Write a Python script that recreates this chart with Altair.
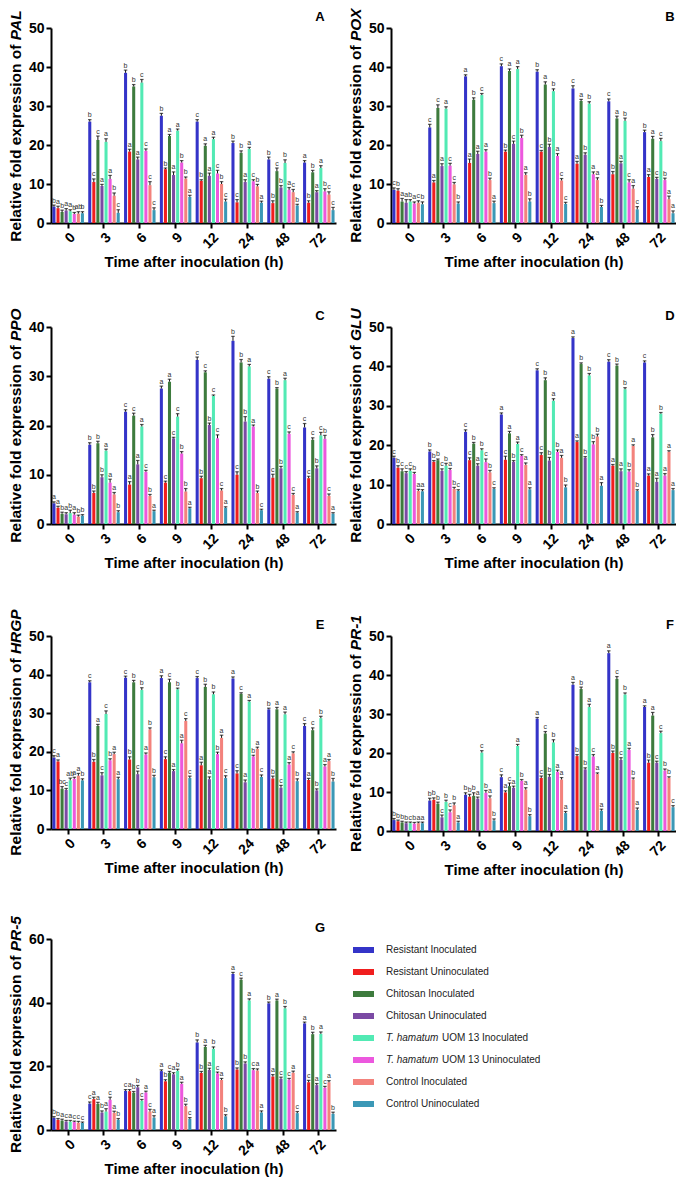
import altair as alt
import pandas as pd

FONT = "Liberation Sans"

times = ["0", "3", "6", "9", "12", "24", "48", "72"]
treatments = [
    "Resistant Inoculated", "Resistant Uninoculated", "Chitosan Inoculated",
    "Chitosan Uninoculated", "T. hamatum UOM 13 Inoculated",
    "T. hamatum UOM 13 Uninoculated", "Control Inoculated", "Control Uninoculated",
]
colors = ["#3434c8", "#f01e1e", "#3d7b3d", "#7b4aa4", "#52eab4", "#ec58de", "#f3827c", "#3b98b6"]

# ---- PAL (A) ----
pal = [[4.2, 3.8, 2.8, 3.2, 3.0, 2.3, 2.4, 2.5],
       [26.0, 10.5, 21.3, 9.5, 20.8, 11.3, 7.0, 2.6],
       [38.5, 18.3, 35.0, 16.3, 36.0, 18.5, 9.7, 3.3],
       [27.5, 13.8, 22.3, 12.3, 23.7, 15.5, 11.4, 6.7],
       [26.0, 10.8, 19.8, 12.1, 21.5, 12.7, 10.0, 5.5],
       [20.5, 5.3, 18.0, 10.5, 19.0, 10.7, 9.4, 5.2],
       [16.3, 5.1, 13.3, 9.1, 15.4, 8.5, 7.9, 4.5],
       [15.5, 5.2, 13.0, 7.9, 14.1, 8.1, 7.3, 3.3]]
pal_err = [[0.4, 0.5, 0.5, 0.5, 0.4, 0.4, 0.5, 0.4],
           [0.5, 0.8, 1.0, 0.4, 0.8, 0.9, 0.7, 0.8],
           [0.7, 0.6, 0.5, 0.6, 0.8, 0.5, 0.9, 0.6],
           [0.6, 0.3, 0.4, 0.8, 0.4, 0.5, 0.4, 0.4],
           [0.5, 0.3, 0.5, 0.7, 0.5, 0.8, 0.6, 0.6],
           [0.5, 0.7, 0.5, 0.6, 0.4, 0.4, 0.5, 0.4],
           [0.6, 0.6, 0.8, 0.5, 0.8, 0.6, 0.7, 0.3],
           [0.5, 0.5, 0.5, 0.4, 0.6, 0.7, 0.7, 0.7]]
pal_sig = ["b a b a a b ab b", "b c c a a a b c", "b a b a c c c c", "b b a a a b b a",
           "c b a a a c b c", "b c b a a c b a", "b b c b b a c b", "a b b a a b c c"]

# ---- POX (B) ----
pox = [[8.5, 8.3, 5.5, 5.2, 5.5, 5.0, 5.2, 4.8],
       [24.5, 10.4, 29.5, 14.6, 29.3, 14.7, 9.9, 5.0],
       [37.6, 15.4, 31.6, 17.7, 32.8, 18.3, 11.0, 5.1],
       [40.2, 18.3, 39.0, 20.3, 39.5, 21.8, 12.3, 5.5],
       [38.8, 18.3, 35.5, 19.5, 33.8, 17.2, 10.9, 4.9],
       [34.5, 15.2, 31.3, 17.5, 30.6, 12.5, 11.0, 4.1],
       [31.2, 12.5, 26.8, 15.3, 26.2, 10.4, 8.8, 3.5],
       [23.3, 11.8, 21.6, 11.3, 21.0, 11.0, 6.1, 2.5]]
pox_err = [[0.5, 0.5, 0.8, 0.8, 0.5, 0.4, 0.5, 0.6],
           [0.8, 0.5, 0.8, 0.6, 0.5, 0.6, 0.5, 0.4],
           [0.4, 1.0, 0.5, 0.7, 0.4, 0.5, 0.5, 0.5],
           [0.6, 0.4, 0.5, 0.7, 0.6, 0.7, 0.6, 0.7],
           [0.5, 0.3, 0.7, 0.7, 0.6, 0.6, 0.5, 0.4],
           [0.7, 0.6, 0.4, 0.5, 0.5, 0.6, 0.6, 0.4],
           [0.6, 0.7, 0.6, 0.5, 0.7, 0.7, 0.8, 0.7],
           [0.5, 0.6, 0.6, 0.4, 0.7, 0.5, 0.8, 0.6]]
pox_sig = ["c b a a b a c b", "c a c a a c c b", "a a b a c a b a", "c b a c a b a b",
           "b c a b b a c c", "c a a b b a a b", "c b a a b c a c", "b a a c c b a a"]

# ---- PPO (C) ----
ppo = [[4.2, 3.3, 2.1, 2.0, 2.2, 1.9, 1.5, 1.7],
       [16.1, 6.3, 16.4, 9.5, 14.9, 8.4, 6.0, 2.4],
       [22.8, 8.0, 22.0, 12.1, 19.8, 10.6, 5.7, 2.6],
       [27.5, 8.4, 28.9, 17.4, 21.8, 14.3, 6.6, 3.2],
       [33.3, 9.3, 30.8, 20.1, 26.0, 17.4, 6.8, 3.3],
       [37.2, 10.0, 32.8, 20.8, 32.0, 19.8, 6.3, 2.8],
       [29.5, 9.4, 27.5, 11.3, 29.2, 18.3, 5.9, 2.3],
       [19.6, 9.3, 17.1, 11.3, 18.0, 17.3, 5.7, 2.1]]
ppo_err = [[0.3, 0.3, 0.3, 0.3, 0.6, 0.4, 0.3, 0.2],
           [0.4, 0.4, 0.4, 0.5, 0.3, 0.7, 0.4, 0.3],
           [0.4, 0.6, 0.5, 0.8, 0.4, 0.3, 0.3, 0.2],
           [0.5, 0.3, 0.5, 0.2, 0.6, 0.4, 0.6, 0.2],
           [0.6, 0.4, 0.3, 0.4, 0.2, 0.7, 0.4, 0.2],
           [0.9, 0.6, 0.6, 1.0, 0.4, 0.3, 0.4, 0.2],
           [0.4, 0.7, 0.2, 0.4, 0.4, 0.4, 0.3, 0.2],
           [0.8, 0.4, 0.4, 0.5, 0.6, 0.7, 0.4, 0.2]]
ppo_sig = ["a a b a b a b b", "b b b b a a a b", "c a c a a c b a", "a c a c c b b a",
           "c b c b c c c a", "b c b b a a b c", "c c b b a c c a", "c c c b c b c a"]

# ---- GLU (D) ----
glu = [[16.8, 14.3, 13.4, 12.9, 13.5, 12.7, 8.4, 8.3],
       [18.4, 15.8, 16.2, 13.5, 14.8, 13.7, 8.9, 8.4],
       [23.4, 16.2, 20.4, 14.8, 18.7, 15.7, 13.1, 8.9],
       [27.8, 16.3, 23.0, 15.8, 20.3, 17.3, 15.0, 8.8],
       [39.0, 17.5, 36.5, 16.1, 31.3, 18.3, 16.8, 9.3],
       [47.2, 20.8, 40.6, 16.8, 37.7, 20.2, 22.2, 9.7],
       [41.2, 14.8, 40.2, 13.4, 34.2, 13.3, 19.8, 8.4],
       [41.0, 12.3, 22.0, 10.7, 28.0, 12.3, 18.3, 8.6]]
glu_err = [[0.4, 0.5, 0.6, 0.4, 0.5, 0.4, 0.4, 0.4],
           [0.4, 0.3, 0.3, 0.5, 0.6, 0.4, 0.4, 0.3],
           [0.5, 0.6, 0.3, 0.5, 0.4, 0.8, 0.5, 0.3],
           [0.4, 0.9, 0.5, 0.3, 0.5, 0.3, 0.5, 0.4],
           [0.4, 0.6, 0.6, 0.8, 0.5, 0.5, 0.6, 0.6],
           [0.3, 0.3, 0.3, 0.3, 0.5, 0.7, 0.6, 0.8],
           [0.5, 0.3, 0.4, 0.6, 0.4, 0.5, 0.3, 0.3],
           [0.4, 0.4, 0.7, 0.9, 0.3, 0.5, 0.3, 0.4]]
glu_sig = ["c b c c c b a a", "b b b c b a b c", "c c b a b c b c", "a c a b a c a a",
           "c c b b a b a b", "a a b b b b b a", "c a b a b b a b", "c a b a b a a a"]

# ---- HRGP (E) ----
hrgp = [[18.5, 17.5, 10.4, 10.1, 12.6, 13.0, 13.8, 12.6],
        [38.0, 17.4, 26.7, 13.9, 29.8, 17.8, 19.4, 12.9],
        [39.2, 18.0, 38.0, 14.2, 36.0, 19.3, 25.8, 13.4],
        [39.1, 18.1, 38.0, 15.0, 36.2, 22.2, 28.0, 13.2],
        [39.1, 16.5, 36.8, 12.9, 34.9, 19.4, 23.6, 13.2],
        [39.0, 14.4, 35.0, 12.1, 33.0, 18.8, 20.8, 13.5],
        [31.0, 13.1, 31.0, 10.7, 29.7, 16.7, 19.6, 12.4],
        [26.7, 12.7, 25.6, 10.0, 28.7, 16.2, 17.6, 12.3]]
hrgp_err = [[0.5, 0.4, 0.6, 0.4, 0.6, 0.4, 0.6, 0.4],
            [0.4, 0.6, 0.4, 0.7, 0.8, 0.4, 0.5, 0.5],
            [0.4, 0.7, 0.5, 0.8, 0.6, 0.4, 0.4, 0.5],
            [0.6, 0.6, 0.8, 0.4, 0.3, 0.8, 0.6, 0.5],
            [0.4, 0.8, 0.7, 0.6, 0.6, 0.5, 0.7, 0.6],
            [0.4, 0.7, 0.3, 0.6, 0.3, 0.3, 0.4, 0.5],
            [0.3, 0.6, 0.5, 0.6, 0.6, 0.5, 0.4, 0.6],
            [0.6, 0.4, 0.6, 0.4, 0.5, 0.5, 0.4, 0.8]]
hrgp_sig = ["c a bc c ab a a b", "c b a c c b a a", "c b b c b a b b", "a c c a b a c c",
            "c a b a b b a c", "a c c a a b a c", "b b a c a a c b", "c a c b b a a b"]

# ---- PR-1 (F) ----
pr1 = [[2.8, 2.5, 2.2, 2.0, 2.0, 1.9, 2.0, 2.0],
       [7.8, 8.0, 7.0, 3.5, 7.5, 4.8, 6.6, 2.2],
       [9.3, 8.8, 9.0, 8.3, 20.1, 9.8, 8.4, 2.7],
       [13.8, 9.9, 11.5, 11.1, 21.8, 12.9, 10.6, 3.8],
       [28.8, 13.6, 25.0, 13.9, 22.7, 15.2, 13.2, 4.6],
       [37.5, 19.2, 36.4, 15.8, 31.8, 19.1, 14.6, 5.2],
       [45.6, 20.0, 39.0, 18.2, 35.0, 20.8, 13.2, 5.4],
       [31.8, 17.5, 29.6, 17.5, 25.1, 15.5, 13.6, 6.1]]
pr1_err = [[0.4, 0.3, 0.3, 0.3, 0.3, 0.3, 0.3, 0.3],
           [0.6, 0.5, 0.4, 0.6, 0.4, 0.6, 0.6, 0.3],
           [0.5, 0.6, 0.8, 0.4, 0.5, 0.6, 0.6, 0.4],
           [0.6, 0.4, 0.8, 0.4, 0.4, 0.3, 0.5, 0.4],
           [0.3, 0.5, 0.5, 0.6, 0.7, 0.4, 0.5, 0.4],
           [0.6, 0.4, 0.5, 0.4, 0.7, 0.5, 0.3, 0.4],
           [0.6, 0.5, 0.6, 0.6, 0.4, 0.4, 0.4, 0.5],
           [0.3, 0.7, 0.8, 0.4, 0.5, 0.4, 0.3, 0.4]]
pr1_sig = ["b b b b c b a a", "b b b c b c b a", "b b b a c b a b", "c a c a a b a b",
           "a c c b b a a a", "a b b b a c a a", "a b c c b a b a", "a b a c c b b c"]

# ---- PR-5 (G) ----
pr5 = [[3.8, 3.2, 3.0, 2.7, 2.6, 2.5, 2.3, 2.2],
       [8.3, 9.7, 8.2, 5.5, 5.8, 9.5, 5.4, 3.2],
       [12.3, 12.2, 11.7, 13.4, 9.2, 11.8, 5.8, 3.9],
       [18.5, 15.3, 18.0, 17.5, 18.6, 14.5, 7.5, 3.5],
       [27.5, 17.9, 26.1, 18.9, 25.5, 17.8, 15.7, 4.3],
       [49.0, 19.0, 47.2, 20.9, 40.7, 18.8, 18.7, 5.5],
       [39.8, 16.8, 40.7, 16.1, 38.2, 15.8, 18.0, 5.3],
       [33.5, 15.0, 30.1, 14.1, 30.2, 13.3, 15.0, 5.1]]
pr5_err = [[0.4, 0.4, 0.4, 0.3, 0.4, 0.3, 0.4, 0.3],
           [0.5, 0.6, 0.5, 0.5, 0.9, 0.8, 0.5, 0.4],
           [0.4, 0.5, 0.4, 0.6, 0.4, 0.4, 0.7, 0.6],
           [0.4, 0.5, 0.4, 0.5, 0.5, 0.5, 0.6, 0.4],
           [0.8, 0.5, 0.5, 0.5, 0.6, 0.4, 0.5, 0.5],
           [0.5, 0.5, 0.5, 0.5, 0.5, 0.5, 0.5, 0.5],
           [0.4, 0.6, 0.4, 0.5, 0.6, 0.4, 0.5, 0.5],
           [0.4, 0.6, 0.6, 0.5, 0.6, 0.4, 0.5, 0.5]]
pr5_sig = ["b b a c a c c c", "c a a b a c a b", "c a b b c a c a", "a b c a b a b c",
           "b b a a b c a b", "a b c b a c a a", "b a a c b c a c", "a c b a a c a b"]

legend_lead = ["", "", "", "", "T. hamatum", "T. hamatum", "", ""]
legend_rest = ["Resistant Inoculated", "Resistant Uninoculated", "Chitosan Inoculated",
               "Chitosan Uninoculated", "UOM 13 Inoculated", "UOM 13 Uninoculated",
               "Control Inoculated", "Control Uninoculated"]

PW = 285
TITLE_SIZE = 15.5
# Arial/Liberation Sans Bold advance widths (em)
W = {"R": .722, "e": .556, "l": .278, "a": .556, "t": .333, "i": .278, "v": .556, " ": .278,
     "f": .333, "o": .611, "d": .611, "x": .556, "p": .611, "r": .389, "s": .556, "n": .611,
     "P": .667, "A": .722, "L": .611, "O": .778, "X": .667, "G": .778, "U": .722, "H": .722,
     "-": .333, "1": .556, "5": .556}


def tw(s, size):
    return sum(W.get(c, .6) for c in s) * size


color_scale = alt.Scale(domain=treatments, range=colors)


def panel(letter, gene, vals, errs, sigs, ymax, ystep, letter_x, ph):
    rows = []
    for ti, t in enumerate(times):
        letters = sigs[ti].split()
        for k, tr in enumerate(treatments):
            v = vals[ti][k]
            rows.append(dict(time=t, treat=tr, value=v, upper=v + errs[ti][k], sig=letters[k]))
    df = pd.DataFrame(rows)
    yscale = alt.Scale(domain=[0, ymax], nice=False, zero=True)
    yaxis = alt.Axis(values=list(range(0, ymax + 1, ystep)), title=None, labelOverlap=False,
                     labelPadding=2)
    base = alt.Chart(df).encode(
        x=alt.X("time:N", sort=times,
                scale=alt.Scale(paddingInner=0.12, paddingOuter=0.04),
                axis=alt.Axis(title="Time after inoculation (h)", labelAngle=-45,
                              labelPadding=2, titlePadding=4)),
        xOffset=alt.XOffset("treat:N", sort=treatments, scale=alt.Scale(paddingInner=0.25)),
    )
    bars = base.mark_bar().encode(
        y=alt.Y("value:Q", scale=yscale, axis=yaxis),
        color=alt.Color("treat:N", scale=color_scale, legend=None),
    )
    err = base.mark_rule(color="#111", strokeWidth=1).encode(
        y=alt.Y("value:Q", scale=yscale, axis=yaxis), y2="upper:Q")
    cap = base.mark_tick(color="#111", thickness=1.2, size=3.5, orient="horizontal").encode(
        y=alt.Y("upper:Q", scale=yscale, axis=yaxis))
    txt = base.mark_text(fontSize=7, dy=-1.5, baseline="bottom", color="#333", font=FONT).encode(
        y=alt.Y("upper:Q", scale=yscale, axis=yaxis), text="sig:N")

    prefix = "Relative fold expression of"
    wp = tw(prefix, TITLE_SIZE)
    total = wp + tw(" ", TITLE_SIZE) + tw(gene, TITLE_SIZE)
    split = ph / 2 + total / 2 - wp
    tdf = pd.DataFrame({"pre": [prefix], "gene": [gene], "letter": [letter]})
    t1 = alt.Chart(tdf).mark_text(angle=270, align="right", baseline="middle", fontSize=TITLE_SIZE,
                                  fontWeight="bold", font=FONT, color="black").encode(
        text="pre:N", x=alt.value(-35), y=alt.value(split))
    t2 = alt.Chart(tdf).mark_text(angle=270, align="left", baseline="middle", fontSize=TITLE_SIZE,
                                  fontWeight="bold", fontStyle="italic", font=FONT, color="black").encode(
        text="gene:N", x=alt.value(-35), y=alt.value(split - tw(" ", TITLE_SIZE)))
    t3 = alt.Chart(tdf).mark_text(align="center", baseline="middle", fontSize=13,
                                  fontWeight="bold", font=FONT, color="black").encode(
        text="letter:N", x=alt.value(letter_x), y=alt.value(-11))

    return alt.layer(bars, err, cap, txt, t1, t2, t3).properties(width=PW, height=ph)


A = panel("A", "PAL", pal, pal_err, pal_sig, 50, 10, PW - 16, 195)
B = panel("B", "POX", pox, pox_err, pox_sig, 50, 10, PW - 6, 195)
C = panel("C", "PPO", ppo, ppo_err, ppo_sig, 40, 10, PW - 16, 197)
D = panel("D", "GLU", glu, glu_err, glu_sig, 50, 10, PW - 6, 197)
E = panel("E", "HRGP", hrgp, hrgp_err, hrgp_sig, 50, 10, PW - 16, 193)
F = panel("F", "PR-1", pr1, pr1_err, pr1_sig, 50, 10, PW - 6, 195)
G = panel("G", "PR-5", pr5, pr5_err, pr5_sig, 60, 20, PW - 16, 191)

ldf = pd.DataFrame({"treat": treatments, "lead": legend_lead, "rest": legend_rest})
ly = alt.Y("treat:N", sort=treatments, axis=None,
           scale=alt.Scale(paddingInner=0, paddingOuter=0))
sw = alt.Chart(ldf).mark_bar(height=6).encode(
    y=ly, x=alt.value(4), x2=alt.value(25),
    color=alt.Color("treat:N", scale=color_scale, legend=None))
lt_plain = alt.Chart(ldf).transform_filter("datum.lead == ''").mark_text(
    align="left", baseline="middle", fontSize=10, font=FONT, color="#222").encode(
    y=ly, x=alt.value(37), text="rest:N")
lt_ital = alt.Chart(ldf).transform_filter("datum.lead != ''").mark_text(
    align="left", baseline="middle", fontSize=10, font=FONT, fontStyle="italic", color="#222").encode(
    y=ly, x=alt.value(37), text="lead:N")
lt_rest = alt.Chart(ldf).transform_filter("datum.lead != ''").mark_text(
    align="left", baseline="middle", fontSize=10, font=FONT, color="#222", dx=56).encode(
    y=ly, x=alt.value(37), text="rest:N")
legend = alt.layer(sw, lt_plain, lt_ital, lt_rest).properties(width=280, height=176)

chart = alt.vconcat(
    alt.hconcat(A, B, spacing=13),
    alt.hconcat(C, D, spacing=13),
    alt.hconcat(E, F, spacing=13),
    alt.hconcat(G, legend, spacing=13),
    spacing=38,
).properties(padding=0).configure_axis(
    domainColor="black", domainWidth=2, tickColor="black", tickWidth=2, tickSize=5,
    labelFont=FONT, labelFontSize=14, labelFontWeight="bold", labelColor="black",
    titleFont=FONT, titleFontSize=15, titleFontWeight="bold", titleColor="black", grid=False,
).configure_view(stroke=None)

chart.save("out.html", embed_options={"renderer": "svg", "actions": False})
